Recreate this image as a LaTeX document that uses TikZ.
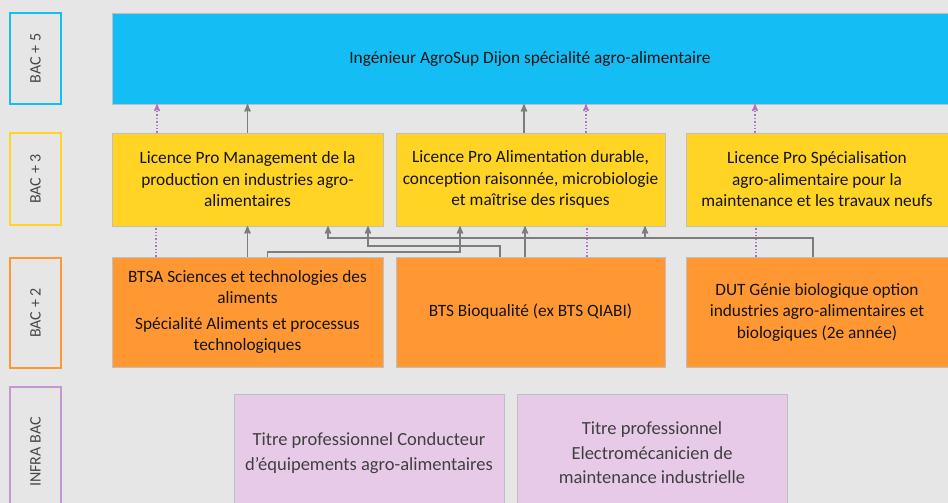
\documentclass[tikz,border=0pt]{standalone}
\usepackage{fontspec}
\setmainfont{Carlito}
\usetikzlibrary{positioning, arrows}
\definecolor{fond}{RGB}{230,230,230}
\definecolor{bleu}{RGB}{20,190,245}
\definecolor{jaune}{RGB}{255,212,36}
\definecolor{orange}{RGB}{255,152,50}
\definecolor{mauve}{RGB}{230,202,232}
\definecolor{mauvef}{RGB}{196,150,210}
\definecolor{gris}{RGB}{125,125,125}
\definecolor{pointille}{RGB}{178,112,196}
\tikzset{
    %Define standard arrow tip
    >=stealth',
    %Define style for level labels
    niv/.style={
           rectangle,
           draw, line width=1.6pt,
           minimum height=51pt,
           text=black!72,
           font=\fontsize{16}{18}\selectfont,
           rotate=90},
    %Define style for boxes
    boite/.style={
           rectangle,
           draw=black!25, thin,
           align=center,
           text=black!92,
           font=\fontsize{17.3}{21.5}\selectfont,
           inner sep=4pt},
    % Define arrow style
    pil/.style={
           ->,
           draw=gris,
           line width=1.6pt},
    % dotted link
    pointi/.style={
           draw=pointille,
           line width=1.4pt,
           dotted}
}

\begin{document}
\begin{tikzpicture}[x=1pt,y=-1pt]

\clip (0,0) rectangle (948,503);
\fill[fond] (0,0) rectangle (948,503);

% level labels
\node[niv, draw=bleu, minimum width=91pt] (L5) at (35.5,58.5) {BAC + 5};
\node[niv, draw=jaune, minimum width=92pt] (L3) at (35.5,179) {BAC + 3};
\node[niv, draw=orange, minimum width=110pt] (L2) at (35.5,313) {BAC + 2};
\node[niv, draw=mauvef, minimum width=130pt] (LI) at (35.5,452) {INFRA BAC};

\node[boite, fill=bleu, minimum width=836pt, minimum height=91pt] (B) at (530,58.5) {Ingénieur AgroSup Dijon spécialité agro-alimentaire};

\node[boite, fill=jaune, minimum width=271pt, minimum height=93pt] (Y1) at (247.5,179.5) {Licence Pro Management de la\\production en industries agro-\\alimentaires};
\node[boite, fill=jaune, minimum width=269pt, minimum height=93pt] (Y2) at (530.5,179.5) {Licence Pro Alimentation durable,\\conception raisonnée, microbiologie\\et maîtrise des risques};
\node[boite, fill=jaune, minimum width=262pt, minimum height=93pt] (Y3) at (817,179.5) {Licence Pro Spécialisation\\agro-alimentaire pour la\\maintenance et les travaux neufs};

\node[boite, fill=orange, minimum width=271pt, minimum height=110pt] (O1) at (247.5,312) {BTSA Sciences et technologies des\\aliments\\[4pt]Spécialité Aliments et processus\\technologiques};
\node[boite, fill=orange, minimum width=269pt, minimum height=110pt] (O2) at (530.5,312) {BTS Bioqualité (ex BTS QIABI)};
\node[boite, fill=orange, minimum width=262pt, minimum height=110pt] (O3) at (817,312) {DUT Génie biologique option\\industries agro-alimentaires et\\biologiques (2e année)};

\node[boite, fill=mauve, text=black!75, font=\fontsize{18.5}{24.5}\selectfont, minimum width=270pt, minimum height=118pt] (P1) at (369,453) {Titre professionnel Conducteur\\d’équipements agro-alimentaires};
\node[boite, fill=mauve, text=black!75, font=\fontsize{18.5}{24.5}\selectfont, minimum width=270pt, minimum height=118pt] (P2) at (652,453) {Titre professionnel\\Electromécanicien de\\maintenance industrielle};

% BAC+3 -> BAC+5
\draw[pil] (Y1.north) -- (Y1.north |- B.south);
\draw[pil] ([xshift=-6.5]Y2.north) -- ([xshift=-6.5]Y2.north |- B.south);
\draw[pointi, ->] ([xshift=-90.5]Y1.north) -- ([xshift=-90.5]Y1.north |- B.south);
\draw[pointi, ->] ([xshift=55.5]Y2.north) -- ([xshift=55.5]Y2.north |- B.south);
\draw[pointi, ->] ([xshift=-62]Y3.north) -- ([xshift=-62]Y3.north |- B.south);

% BAC+2 -> BAC+3
\draw[pointi] ([xshift=-91.5]O1.north) -- ([xshift=-91.5]Y1.south);
\draw[pointi] ([xshift=56.5]O2.north) -- ([xshift=56.5]Y2.south);
\draw[pointi] ([xshift=-61]O3.north) -- ([xshift=-61]Y3.south);
\draw[pil] (O1.north) -- (Y1.south);
\draw[pil] ([xshift=20]O1.north) -- ++(0,-5) -| ([xshift=-70.5]Y2.south);
\draw[pil] ([xshift=-5.5]O2.north) -- ([xshift=-5.5]Y2.south);
\draw[pil] ([xshift=-30.5]O2.north) -- ++(0,-11) -| ([xshift=120.5]Y1.south);
\draw[pil] ([xshift=-4]O3.north) -- ++(0,-19) -| ([xshift=114.5]Y2.south);
\draw[pil] ([xshift=-4]O3.north) -- ++(0,-19) -| ([xshift=80.5]Y1.south);

\end{tikzpicture}
\end{document}
